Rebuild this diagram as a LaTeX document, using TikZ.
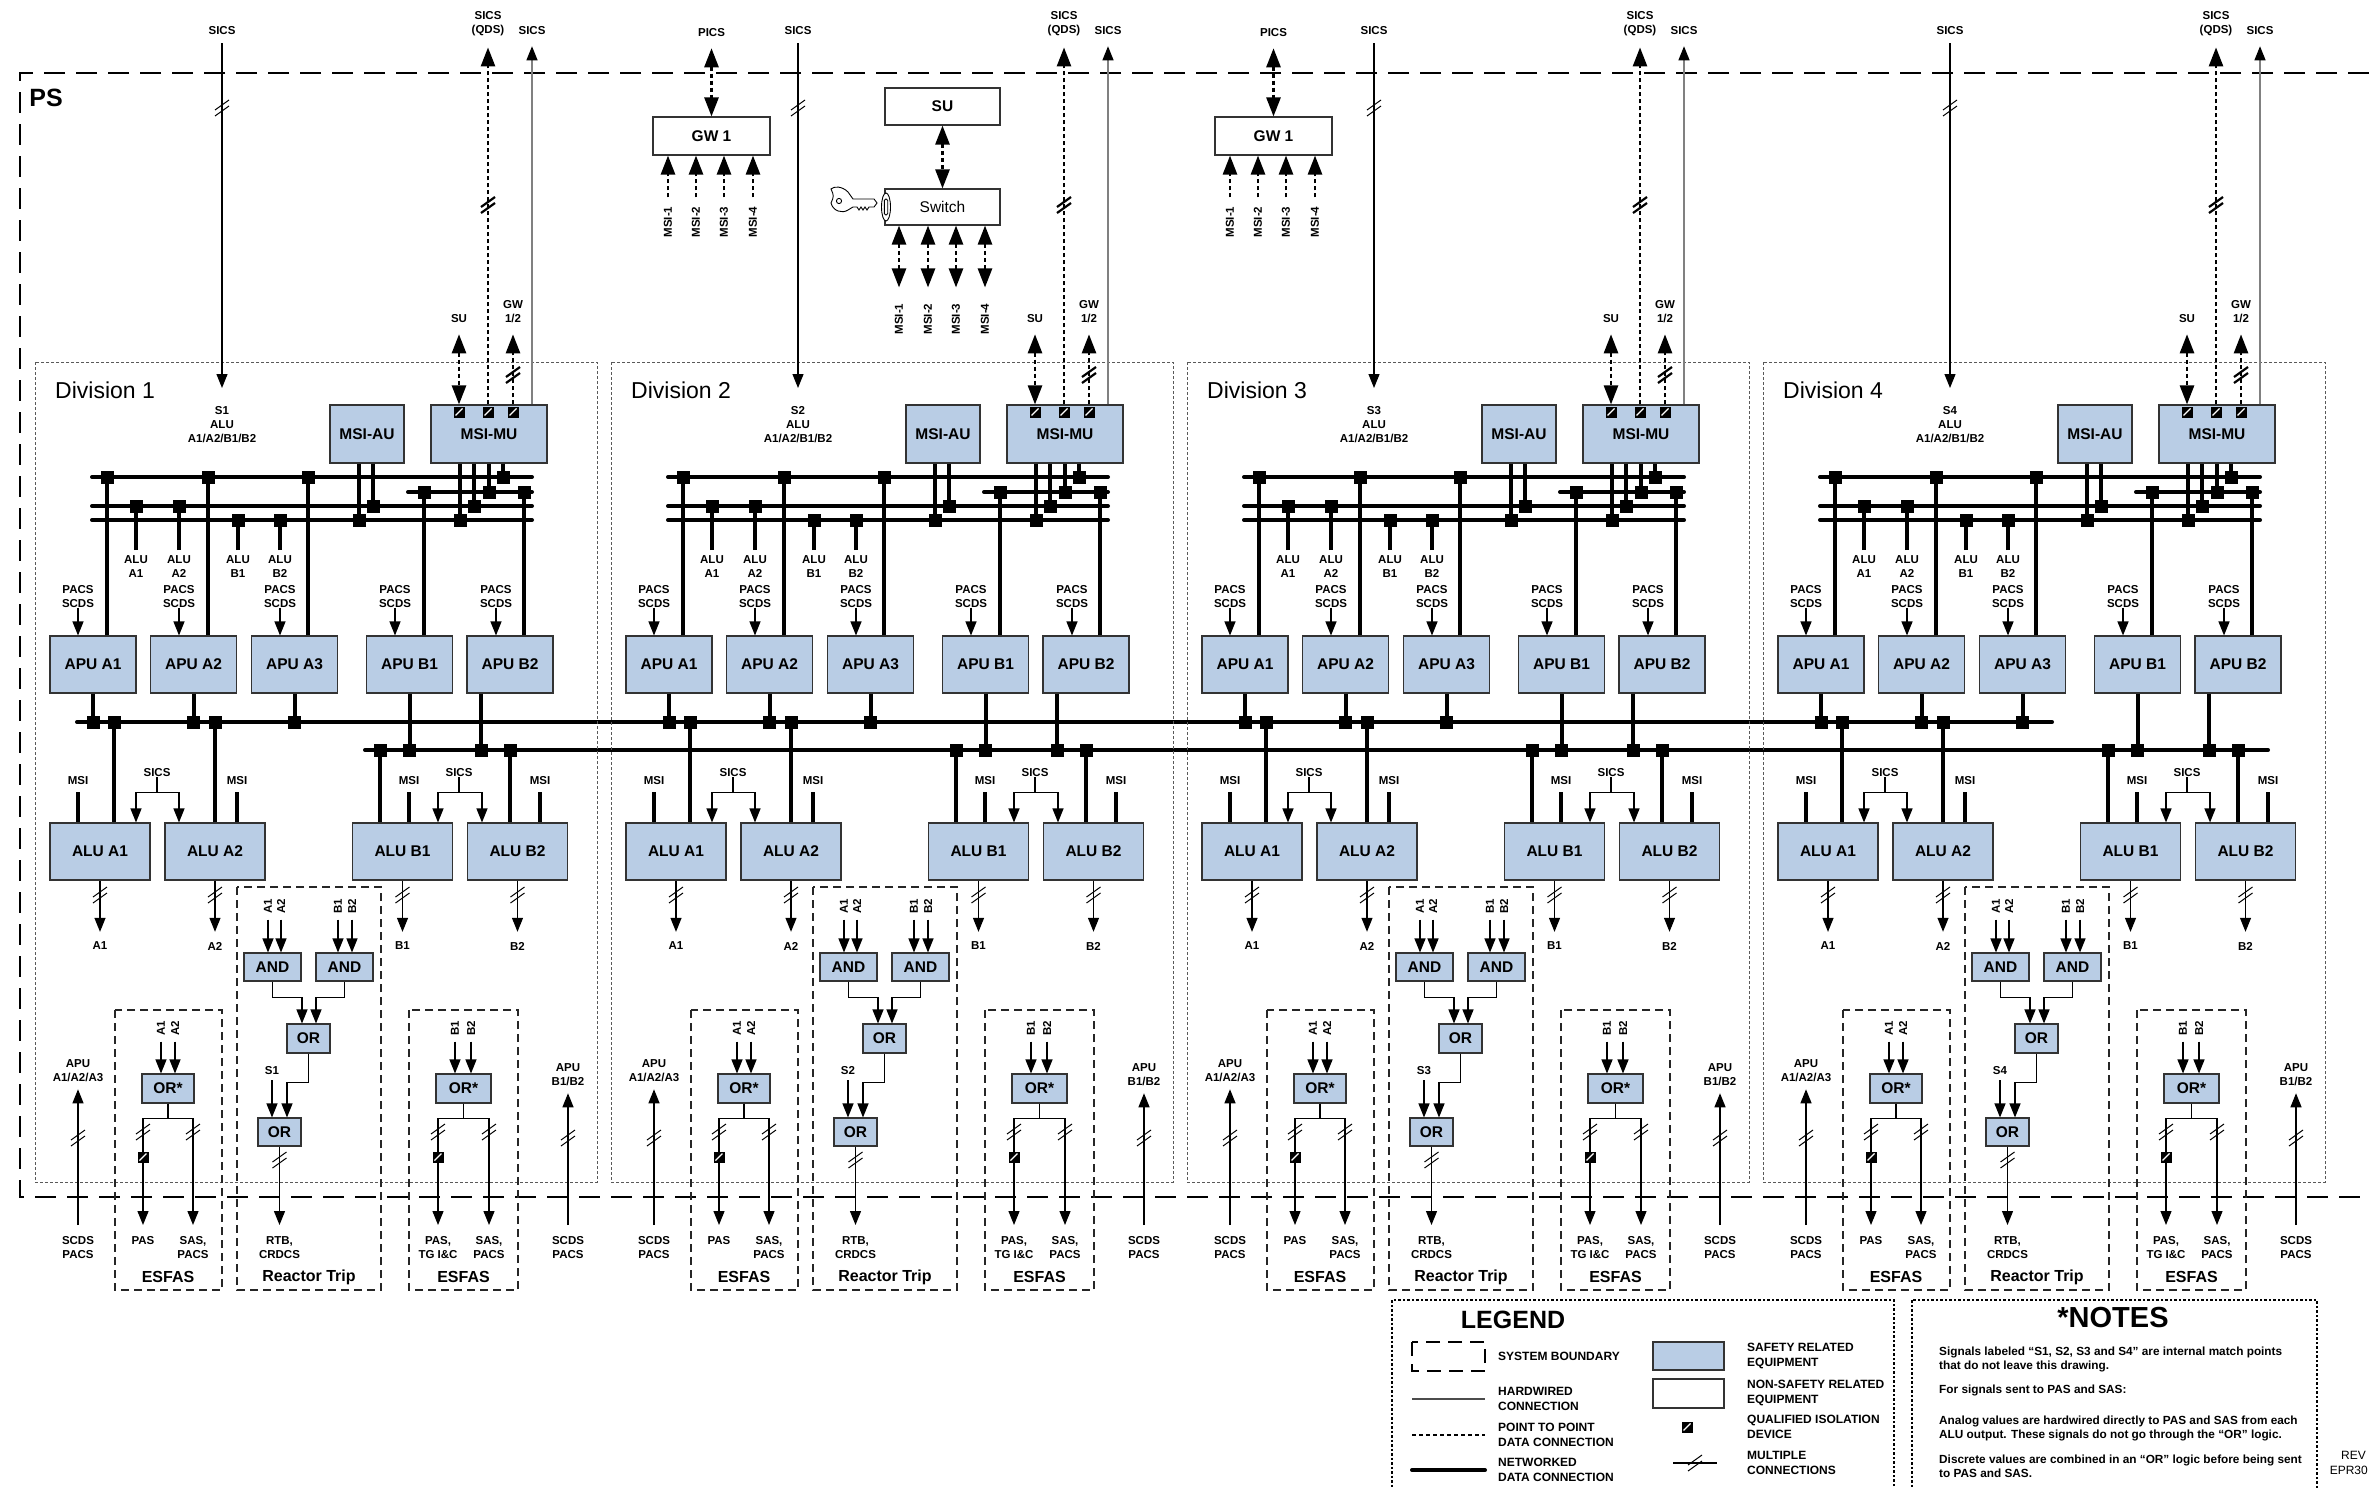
\documentclass[tikz,border=0pt]{standalone}
\usepackage{fontspec}
\setmainfont{Liberation Sans}
\usetikzlibrary{arrows.meta,positioning,calc}
\definecolor{safeblue}{HTML}{B9CDE5}
\definecolor{wiregray}{HTML}{808080}
\tikzset{
  tipS/.tip={Triangle[width=11pt,length=14pt]},
  tipL/.tip={Triangle[width=14pt,length=19pt]},
  eqbox/.style={draw=black!80,line width=1.1pt,inner sep=0pt,font=\bfseries\fontsize{15.5}{18}\selectfont},
  safe/.style={eqbox,fill=safeblue},
  nsafe/.style={eqbox,fill=white},
  lbl/.style={inner sep=0pt,align=center,font=\bfseries\fontsize{11.5}{14}\selectfont},
  legl/.style={anchor=west,inner sep=0pt,align=left,font=\bfseries\fontsize{12}{14.5}\selectfont},
  notel/.style={anchor=west,inner sep=0pt,align=left,font=\bfseries\fontsize{11.8}{14}\selectfont},
  grp/.style={inner sep=0pt,font=\bfseries\fontsize{16}{19}\selectfont},
  net/.style={line width=4pt},
  wire/.style={line width=1.2pt},
  hw/.style={wire,-tipS},
  p2p/.style={line width=2.6pt,dash pattern=on 4pt off 3pt},
  bnd/.style={line width=2.8pt,dash pattern=on 21pt off 11pt},
  divbox/.style={draw=black!65,line width=1pt,dash pattern=on 3pt off 2pt},
  subsys/.style={draw=black!85,line width=1.2pt,dash pattern=on 8pt off 5pt},
  frame/.style={line width=2pt,dash pattern=on 2.5pt off 2pt},
  jn/.pic={\fill (-6.5,-6.5) rectangle (6.5,6.5);},
  iso/.pic={\fill (-5.5,-5.5) rectangle (5.5,5.5);
    \draw[white,line width=1.3pt] (-3.5,3.5) -- (3.5,-3.5);},
  mc/.pic={\draw[line width=1pt] (-7,2) -- (7,-8) (-7,8) -- (7,-2);},
  mcb/.pic={\draw[line width=2.2pt] (-7,2) -- (7,-8) (-7,8) -- (7,-2);},
}
\begin{document}
\begin{tikzpicture}[x=1pt,y=-1pt]
\useasboundingbox (0,0) rectangle (2369,1488);
\clip (0,0) rectangle (2369,1488);
\fill[white] (0,0) rectangle (2369,1488);

\draw[bnd] (2369,73) -- (20,73) -- (20,1197) -- (2369,1197);
\node[inner sep=0pt,font=\bfseries\fontsize{25}{30}\selectfont] (ps) at (46,98) {PS};

\draw[net,line cap=round] (77,722) -- (2052,722);
\draw[net,line cap=round] (365,750) -- (2268,750);

\foreach \dv/\dx in {1/0,2/576,3/1152,4/1728}{
\begin{scope}[shift={(\dx,0)}]
  \draw[divbox] (35,362) rectangle (597,1182);
  \node[anchor=west,inner sep=0pt,font=\fontsize{23}{27}\selectfont] (dvn-\dv) at (55,390) {Division \dv};
  \node[safe,minimum width=74pt,minimum height=58pt] (msiau-\dv) at (367,434) {MSI-AU};
  \node[safe,minimum width=116pt,minimum height=58pt] (msimu-\dv) at (489,434) {MSI-MU};
  \node[lbl] (sicsin-\dv) at (222,31) {SICS};
  \node[lbl,anchor=north] (sin-\dv) at (222,406) {S\dv\\ALU\\A1/A2/B1/B2};
  \draw[hw,shorten <=8pt,shorten >=18pt] (sicsin-\dv.south) -- (sin-\dv.north);
  \pic at (222,108) {mc};
  \node[lbl] (qds-\dv) at (488,24) {SICS\\(QDS)};
  \draw[p2p,-tipL,shorten >=11pt] ([xshift=-1pt]msimu-\dv.north) -- (qds-\dv.south);
  \pic at (488,205) {mcb};
  \node[lbl] (sicsout-\dv) at (532,31) {SICS};
  \draw[wire,wiregray,-{tipS[color=black]},shorten >=11pt] ([xshift=43pt]msimu-\dv.north) -- (sicsout-\dv.south);
  \node[lbl] (su-\dv) at (459,319) {SU};
  \draw[p2p,tipL-tipL,shorten <=11pt] (su-\dv.south) -- ([xshift=-30pt]msimu-\dv.north);
  \node[lbl] (gw-\dv) at (513,312) {GW\\1/2};
  \draw[p2p,-tipL,shorten >=11pt] ([xshift=24pt]msimu-\dv.north) -- (gw-\dv.south);
  \pic at (513,375) {mcb};
  \foreach \ix in {459,488,513} \pic at (\ix,412) {iso};

  \draw[net,line cap=round] (92,477) -- (532,477);
  \draw[net,line cap=round] (408,492) -- (532,492);
  \draw[net,line cap=round] (92,506) -- (532,506);
  \draw[net,line cap=round] (92,520) -- (532,520);
  \draw[net] ([xshift=-8pt]msiau-\dv.south) -- (359,520);
  \draw[net] ([xshift=6pt]msiau-\dv.south) -- (373,506);
  \draw[net] ([xshift=-29pt]msimu-\dv.south) -- (460,520);
  \draw[net] ([xshift=-15pt]msimu-\dv.south) -- (474,506);
  \draw[net] (msimu-\dv.south) -- (489,492);
  \draw[net] ([xshift=14pt]msimu-\dv.south) -- (503,477);

  \foreach \un/\ux/\px/\tx/\ty/\qx/\by in {A1/93/78/107/477/93/722, A2/193.5/179/208/477/193.5/722, A3/294.5/280/308/477/294.5/722, B1/409.5/395/424/492/409.5/750, B2/510/496/524/492/481/750}{
    \node[safe,minimum width=86pt,minimum height=57pt] (apu\un-\dv) at (\ux,664.5) {APU \un};
    \node[lbl,anchor=north] (pacs\un-\dv) at (\px,585) {PACS\\SCDS};
    \draw[hw] (pacs\un-\dv.south) -- (pacs\un-\dv.south |- apu\un-\dv.north);
    \draw[net] ($(apu\un-\dv.north)+(\tx-\ux,0)$) -- (\tx,\ty);
    \draw[net] ($(apu\un-\dv.south)+(\qx-\ux,0)$) -- (\qx,\by);
  }
  \foreach \un/\ux/\by in {A1/136/506, A2/179/506, B1/238/520, B2/280/520}{
    \node[lbl,anchor=north] (alus\un-\dv) at (\ux,555) {ALU\\\un};
    \draw[net] ([yshift=5pt]alus\un-\dv.north) -- (\ux,\by);
  }

  \foreach \un/\ux/\tx/\ty/\mx in {A1/100/114/722/78, A2/215/215/722/237, B1/402.5/380/750/409, B2/517.5/510/750/540}{
    \node[safe,minimum width=100pt,minimum height=57pt] (alu\un-\dv) at (\ux,851.5) {ALU \un};
    \draw[net] (\tx,\ty) -- ($(alu\un-\dv.north)+(\tx-\ux,0)$);
    \node[lbl] (msi\un-\dv) at (\mx,781) {MSI};
    \draw[net] ([yshift=-7pt]msi\un-\dv.south) -- (msi\un-\dv.south |- alu\un-\dv.north);
    \node[lbl] (out\un-\dv) at (\ux,946) {\un};
    \draw[hw,shorten >=10pt] (alu\un-\dv.south) -- (out\un-\dv.north);
    \pic at (\ux,895) {mc};
  }
  \node[lbl] (sicsA-\dv) at (157,773) {SICS};
  \draw[hw] (sicsA-\dv.south) -- ++(0,15) -| ([xshift=36pt]aluA1-\dv.north);
  \draw[hw] (sicsA-\dv.south) -- ++(0,15) -| ([xshift=-36pt]aluA2-\dv.north);
  \node[lbl] (sicsB-\dv) at (459,773) {SICS};
  \draw[hw] (sicsB-\dv.south) -- ++(0,15) -| ([xshift=35.5pt]aluB1-\dv.north);
  \draw[hw] (sicsB-\dv.south) -- ++(0,15) -| ([xshift=-35.5pt]aluB2-\dv.north);

  \draw[subsys] (237,887) rectangle (381,1290);
  \node[safe,minimum width=57pt,minimum height=28pt] (andL-\dv) at (272.5,967) {AND};
  \node[safe,minimum width=57pt,minimum height=28pt] (andR-\dv) at (344.5,967) {AND};
  \foreach \n/\nx/\g in {A1/268/L, A2/281/L, B1/338/R, B2/352/R}{
    \node[lbl,rotate=90] (rt\n-\dv) at (\nx,906) {\n};
    \draw[hw] ([yshift=-6pt]rt\n-\dv.west) -- (rt\n-\dv.west |- and\g-\dv.north);
  }
  \node[safe,minimum width=43pt,minimum height=29pt] (or1-\dv) at (308.5,1038.5) {OR};
  \draw[hw] (andL-\dv.south) -- ++(0,16) -| ([xshift=-6.5pt]or1-\dv.north);
  \draw[hw] (andR-\dv.south) -- ++(0,16) -| ([xshift=7.5pt]or1-\dv.north);
  \node[safe,minimum width=43pt,minimum height=28pt] (or2-\dv) at (279.5,1132) {OR};
  \draw[hw] (or1-\dv.south) -- ++(0,29) -| ([xshift=7.5pt]or2-\dv.north);
  \node[lbl] (sl-\dv) at (272,1071) {S\dv};
  \draw[hw] ([yshift=-5pt]sl-\dv.south) -- (sl-\dv.south |- or2-\dv.north);
  \node[lbl,anchor=north] (rtb-\dv) at (279.5,1236) {RTB,\\CRDCS};
  \draw[hw,shorten >=11pt] (or2-\dv.south) -- (rtb-\dv.north);
  \pic at (279.5,1160) {mc};
  \node[grp] (rtrip-\dv) at (309,1277) {Reactor Trip};

  \draw[subsys] (115,1010) rectangle (222,1290);
  \node[safe,minimum width=52pt,minimum height=29pt] (orsA-\dv) at (168,1088.5) {OR*};
  \foreach \n/\nx in {A1/161, A2/175}{
    \node[lbl,rotate=90] (es\n-\dv) at (\nx,1028) {\n};
    \draw[hw] ([yshift=-6pt]es\n-\dv.west) -- (es\n-\dv.west |- orsA-\dv.north);
  }
  \node[lbl,anchor=north] (pasA-\dv) at (143,1236) {PAS};
  \node[lbl,anchor=north] (sasA-\dv) at (193,1236) {SAS,\\PACS};
  \draw[hw,shorten >=11pt] (orsA-\dv.south) -- ++(0,15) -| (pasA-\dv.north);
  \draw[hw,shorten >=11pt] (orsA-\dv.south) -- ++(0,15) -| (sasA-\dv.north);
  \pic at (143,1132) {mc};
  \pic at (193,1132) {mc};
  \pic at (143,1157) {iso};
  \node[grp] (esfA-\dv) at (168,1277) {ESFAS};
  \node[lbl] (apuinA-\dv) at (78,1071) {APU\\A1/A2/A3};
  \node[lbl,anchor=north] (scdsA-\dv) at (78,1236) {SCDS\\PACS};
  \draw[hw,shorten <=11pt,shorten >=7pt] (scdsA-\dv.north) -- (apuinA-\dv.south);
  \pic at (78,1138) {mc};

  \draw[subsys] (409,1010) rectangle (518,1290);
  \node[safe,minimum width=55pt,minimum height=29pt] (orsB-\dv) at (463.5,1088.5) {OR*};
  \foreach \n/\nx in {B1/455, B2/471}{
    \node[lbl,rotate=90] (es\n-\dv) at (\nx,1028) {\n};
    \draw[hw] ([yshift=-6pt]es\n-\dv.west) -- (es\n-\dv.west |- orsB-\dv.north);
  }
  \node[lbl,anchor=north] (pasB-\dv) at (438,1236) {PAS,\\TG I\&C};
  \node[lbl,anchor=north] (sasB-\dv) at (489,1236) {SAS,\\PACS};
  \draw[hw,shorten >=11pt] (orsB-\dv.south) -- ++(0,15) -| (pasB-\dv.north);
  \draw[hw,shorten >=11pt] (orsB-\dv.south) -- ++(0,15) -| (sasB-\dv.north);
  \pic at (438,1132) {mc};
  \pic at (489,1132) {mc};
  \pic at (438,1157) {iso};
  \node[grp] (esfB-\dv) at (463.5,1277) {ESFAS};
  \node[lbl] (apuinB-\dv) at (568,1075) {APU\\B1/B2};
  \node[lbl,anchor=north] (scdsB-\dv) at (568,1236) {SCDS\\PACS};
  \draw[hw,shorten <=11pt,shorten >=7pt] (scdsB-\dv.north) -- (apuinB-\dv.south);
  \pic at (568,1138) {mc};

  \foreach \jx/\jy in {107/477,208/477,308/477,503/477,424/492,489/492,524/492,136/506,179/506,373/506,474/506,238/520,280/520,359/520,460/520,93/722,114/722,193.5/722,215/722,294.5/722,380/750,409.5/750,481/750,510/750}
    \pic at (\jx,\jy) {jn};
\end{scope}}

\foreach \gi/\gx in {1/0,2/562}{
\begin{scope}[shift={(\gx,0)}]
  \node[nsafe,minimum width=117pt,minimum height=38pt] (gwy-\gi) at (711.5,136) {GW 1};
  \node[lbl] (pics-\gi) at (711.5,33) {PICS};
  \draw[p2p,tipL-tipL,shorten <=11pt] (pics-\gi.south) -- (gwy-\gi.north);
  \foreach \m/\mx in {1/668,2/696,3/724,4/753}{
    \node[lbl,rotate=90] (gwm\m-\gi) at (\mx,222) {MSI-\m};
    \draw[p2p,-tipL,shorten <=9pt] (gwm\m-\gi.east) -- (gwm\m-\gi.east |- gwy-\gi.south);
  }
\end{scope}}

\node[nsafe,minimum width=115pt,minimum height=37pt] (su) at (942.5,106.5) {SU};
\node[nsafe,minimum width=115pt,minimum height=36pt,font=\fontsize{15.5}{18}\selectfont] (sw) at (942.5,207) {Switch};
\draw[p2p,tipL-tipL] (su) -- (sw);
\foreach \m/\mx in {1/899,2/928,3/956,4/985}{
  \node[lbl,rotate=90] (swm\m) at (\mx,319) {MSI-\m};
  \draw[p2p,tipL-tipL,shorten >=16pt] (swm\m.east |- sw.south) -- (swm\m.east);
}
\draw[line width=0.9pt,fill=white] (853,199) -- (848,192) .. controls (842,186) and (834,186) .. (831,189)
  .. controls (834,196) .. (831,203) .. controls (833,211) and (842,214) .. (848,210) -- (853,207)
  -- (857,207) -- (859,210) -- (861,207) -- (863,210) -- (865,207) -- (867,210) -- (869,207)
  -- (874,207) -- (877,203) -- (874,199) -- cycle;
\draw[line width=0.9pt] (839,201) circle (2.6);
\draw[line width=0.9pt,fill=white] (886,207) ellipse (4.5 and 14);
\draw[line width=0.9pt,rounded corners=1.5pt] (884.3,199) rectangle (887.7,215);

\draw[frame] (1392,1300) rectangle (1894,1520);
\node[inner sep=0pt,font=\bfseries\fontsize{25}{30}\selectfont] (leg) at (1513,1320) {LEGEND};
\draw[line width=2.4pt,dash pattern=on 14pt off 8pt] (1412,1342) rectangle (1485,1371);
\node[legl] (lsb) at (1498,1356) {SYSTEM BOUNDARY};
\draw[wire,black!70] (1412,1399) -- (1485,1399);
\node[legl] (lhw) at (1498,1399) {HARDWIRED\\CONNECTION};
\draw[p2p,line width=2pt] (1412,1435) -- (1485,1435);
\node[legl] (lpp) at (1498,1435) {POINT TO POINT\\DATA CONNECTION};
\draw[net,line cap=round] (1412,1470) -- (1485,1470);
\node[legl] (lnw) at (1498,1470) {NETWORKED\\DATA CONNECTION};
\node[safe,minimum width=71pt,minimum height=28pt] (lsafe) at (1688.5,1356) {};
\node[legl] (lsr) at (1747,1356) {SAFETY RELATED\\EQUIPMENT};
\node[nsafe,minimum width=71pt,minimum height=29pt] (lnsafe) at (1688.5,1393.5) {};
\node[legl] (lnsr) at (1747,1393) {NON-SAFETY RELATED\\EQUIPMENT};
\pic at (1687,1427) {iso};
\node[legl] (lqi) at (1747,1427) {QUALIFIED ISOLATION\\DEVICE};
\draw[wire] (1673,1463) -- (1717,1463);
\pic at (1695,1463) {mc};
\node[legl] (lmc) at (1747,1463) {MULTIPLE\\CONNECTIONS};

\draw[frame] (1912,1300) rectangle (2317,1520);
\node[inner sep=0pt,font=\bfseries\fontsize{29}{34}\selectfont] (nt) at (2113,1318) {*NOTES};
\node[notel] (n1) at (1939,1359) {Signals labeled “S1, S2, S3 and S4” are internal match points\\that do not leave this drawing.};
\node[notel] (n2) at (1939,1390) {For signals sent to PAS and SAS:};
\node[notel] (n3) at (1939,1428) {Analog values are hardwired directly to PAS and SAS from each\\ALU output.  These signals do not go through the “OR” logic.};
\node[notel] (n4) at (1939,1466.5) {Discrete values are combined in an “OR” logic before being sent\\to PAS and SAS.};
\node[anchor=east,inner sep=0pt,font=\fontsize{12}{14}\selectfont] (rev) at (2366,1455) {REV};
\node[anchor=east,inner sep=0pt,font=\fontsize{12}{14}\selectfont] (epr) at (2368,1470) {EPR30};
\end{tikzpicture}
\end{document}
